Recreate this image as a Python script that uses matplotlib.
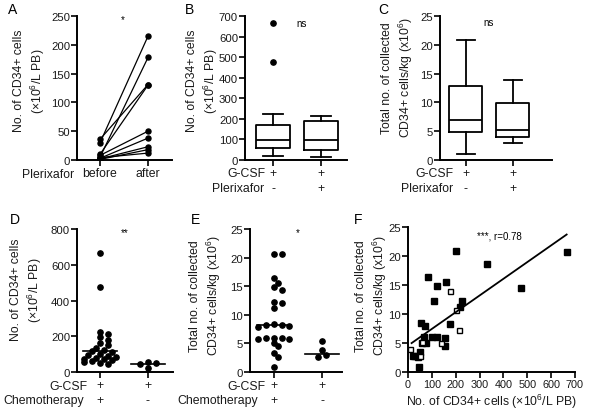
import numpy as np
import matplotlib
matplotlib.use("Agg")
from matplotlib import pyplot as plt

plt.rcParams['font.family'] = ['Liberation Sans', 'DejaVu Sans']
plt.rcParams['mathtext.fontset'] = 'custom'
plt.rcParams['mathtext.rm'] = 'Liberation Sans'
plt.rcParams['mathtext.it'] = 'Liberation Sans:italic'
plt.rcParams['font.size'] = 8

# ---- data ----
# A: paired CD34+ counts before / after plerixafor
a_before = [30, 5, 36, 10, 8, 3, 2, 1, 4]
a_after = [215, 178, 131, 130, 50, 38, 23, 18, 12]

# B: box stats (whislo, q1, med, q3, whishi) and outliers
b_stats = [[20, 60, 95, 172, 222], [15, 50, 95, 192, 215]]
b_fliers = [[475, 665], []]

# C: box stats
c_stats = [[1.0, 4.8, 7.0, 12.8, 20.8], [3.0, 4.0, 5.2, 9.9, 13.9]]

# D: CD34+ counts, chemo vs no chemo
d_chemo = [665, 475, 225, 215, 195, 180, 160, 150, 135, 125, 118, 110, 100,
           95, 90, 85, 80, 75, 70, 65, 60, 55, 50, 45]
d_nochemo = [55, 50, 45, 20]
d_medians = [115, 45]

# E: collected CD34+ cells/kg
e_chemo = [20.7, 20.6, 16.4, 15.6, 14.8, 14.4, 12.3, 12.0, 11.2, 8.4, 8.3,
           8.2, 8.0, 7.9, 6.0, 6.0, 5.9, 5.8, 5.8, 5.0, 4.5, 3.4, 2.6, 0.9]
e_nochemo = [5.5, 3.8, 3.0, 2.7]
e_medians = [8.3, 3.2]

# F: correlation, filled = G-CSF + chemo, open = plerixafor
f_fill_x = [665, 475, 330, 200, 85, 120, 160, 110, 225, 220, 175, 55, 70, 100,
            120, 155, 155, 60, 75, 50, 30, 40, 45, 20, 65]
f_fill_y = [20.7, 14.4, 18.6, 20.8, 16.4, 14.8, 15.6, 12.3, 12.2, 11.2, 8.3,
            8.4, 8.0, 6.0, 6.0, 5.8, 4.5, 5.0, 5.0, 3.5, 2.7, 2.6, 0.9, 2.7, 6.0]
f_open_x = [175, 200, 215, 60, 140, 10, 50]
f_open_y = [13.9, 10.7, 7.2, 5.2, 5.0, 3.9, 2.8]
f_slope, f_icept = 0.0288, 4.55
f_line_x = [15, 665]

W, H = 589, 410
fig = plt.figure(figsize=(W / 100, H / 100), dpi=100)
TXT = '#1a1a1a'
FS = 8.2
RS = 8.8  # row labels under the axes


def add_ax(l, t, r, b):
    ax = fig.add_axes([l / W, 1 - b / H, (r - l) / W, (b - t) / H])
    for s in ['top', 'right']:
        ax.spines[s].set_visible(False)
    for s in ['left', 'bottom']:
        ax.spines[s].set_linewidth(1.4)
    ax.tick_params(direction='out', length=4, width=1.2, labelsize=8.2,
                   colors='black', labelcolor=TXT, pad=1)
    ax.patch.set_alpha(0)
    return ax


def ylab(x, y, s):
    fig.text(x / W, 1 - y / H, s, rotation=90, ha='center', va='center',
             fontsize=8.8, color=TXT, linespacing=1.25)


def put(x, y, s, ha='center', fs=FS):
    fig.text(x / W, 1 - y / H, s, ha=ha, va='center', fontsize=fs, color=TXT)


def swarm(vals, center, ax_h_px, vmax, xscale, d=5.4):
    # simple beeswarm: place points so they don't overlap too much in pixel space
    ypx = np.array(vals) / vmax * ax_h_px
    placed = []
    xs = []
    for yy in ypx:
        for k in [0, 1, -1, 2, -2, 3, -3, 4, -4]:
            xx = k * d * 0.72
            if all((xx - px) ** 2 + (yy - py) ** 2 >= (0.88 * d) ** 2 for px, py in placed):
                break
        placed.append((xx, yy))
        xs.append(center + xx / xscale)
    return xs


lab_cd34 = 'No. of CD34+ cells\n' + r'(×10$^6$/L PB)'
lab_tot = 'Total no. of collected\n' + r'CD34+ cells/kg (x10$^6$)'

# ---- A ----
ax = add_ax(77, 17, 172, 161)
for b, a in zip(a_before, a_after):
    ax.plot([0, 1], [b, a], color='black', lw=0.9, marker='o', ms=3.6)
ax.set_xlim(-0.48, 1.5)
ax.set_ylim(0, 250)
ax.set_yticks(range(0, 251, 50))
ax.set_xticks([0, 1])
ax.set_xticklabels(['before', 'after'], fontsize=RS)
ax.text(0.48, 245, '*', ha='center', va='center', fontsize=7)
put(22, 175, 'Plerixafor', ha='left', fs=RS)
fig.text(13 / W, 1 - 10 / H, 'A', ha='center', va='center', fontsize=10)
ylab(30, 81, lab_cd34)

# ---- B ----
ax = add_ax(245, 17, 347, 161)
stats = [dict(whislo=s[0], q1=s[1], med=s[2], q3=s[3], whishi=s[4], fliers=f)
         for s, f in zip(b_stats, b_fliers)]
lp = dict(color='black', lw=1.3)
ax.bxp(stats, positions=[0, 1], widths=0.7, boxprops=lp, whiskerprops=lp,
       capprops=lp, medianprops=lp, capwidths=0.42,
       flierprops=dict(marker='o', mfc='black', mec='black', ms=3.8))
ax.set_xlim(-0.58, 1.54)
ax.set_ylim(0, 700)
ax.set_yticks(range(0, 701, 100))
ax.set_xticks([0, 1])
ax.set_xticklabels(['+', '+'], fontsize=RS)
ax.text(0.6, 665, 'ns', ha='center', va='center', fontsize=7)
put(266, 174, 'G-CSF', ha='right', fs=RS)
put(264, 189, 'Plerixafor', ha='right', fs=RS)
put(273, 189, '-', fs=RS)
put(321, 189, '+', fs=RS)
fig.text(190 / W, 1 - 10 / H, 'B', ha='center', va='center', fontsize=10)
ylab(203, 81, lab_cd34)

# ---- C ----
ax = add_ax(440, 17, 552, 161)
stats = [dict(whislo=s[0], q1=s[1], med=s[2], q3=s[3], whishi=s[4], fliers=[])
         for s in c_stats]
ax.bxp(stats, positions=[0, 1], widths=0.7, boxprops=lp, whiskerprops=lp,
       capprops=lp, medianprops=lp, capwidths=0.39)
ax.set_xlim(-0.55, 1.83)
ax.set_ylim(0, 25)
ax.set_yticks(range(0, 26, 5))
ax.set_xticks([0, 1])
ax.set_xticklabels(['+', '+'], fontsize=RS)
ax.text(0.49, 24, 'ns', ha='center', va='center', fontsize=7)
put(454, 174, 'G-CSF', ha='right', fs=RS)
put(453, 189, 'Plerixafor', ha='right', fs=RS)
put(466, 189, '-', fs=RS)
put(513, 189, '+', fs=RS)
fig.text(383 / W, 1 - 10 / H, 'C', ha='center', va='center', fontsize=10)
ylab(398, 78, lab_tot)

# ---- D ----
ax = add_ax(77, 230, 173, 373)
for i, grp in enumerate([d_chemo, d_nochemo]):
    xs = swarm(grp, i, 143, 800, 48)
    ax.plot(xs, grp, 'o', color='black', ms=3.8, ls='none')
    ax.plot([i - 0.35, i + 0.35], [d_medians[i]] * 2, color='black', lw=1.2)
ax.set_xlim(-0.48, 1.52)
ax.set_ylim(0, 800)
ax.set_yticks(range(0, 801, 200))
ax.set_xticks([0, 1])
ax.set_xticklabels(['+', '+'], fontsize=RS)
ax.text(0.52, 785, '**', ha='center', va='center', fontsize=7)
put(87, 387, 'G-CSF', ha='right', fs=RS)
put(84, 401, 'Chemotherapy', ha='right', fs=RS)
put(100, 401, '+', fs=RS)
put(148, 401, '-', fs=RS)
fig.text(15 / W, 1 - 220 / H, 'D', ha='center', va='center', fontsize=10)
ylab(27, 290, lab_cd34)

# ---- E ----
ax = add_ax(250, 230, 342, 373)
for i, grp in enumerate([e_chemo, e_nochemo]):
    xs = swarm(grp, i, 143, 25, 48)
    ax.plot(xs, grp, 'o', color='black', ms=3.8, ls='none')
    ax.plot([i - 0.35, i + 0.35], [e_medians[i]] * 2, color='black', lw=1.2)
ax.set_xlim(-0.5, 1.42)
ax.set_ylim(0, 25)
ax.set_yticks(range(0, 26, 5))
ax.set_xticks([0, 1])
ax.set_xticklabels(['+', '+'], fontsize=RS)
ax.text(0.5, 24.5, '*', ha='center', va='center', fontsize=7)
put(265, 387, 'G-CSF', ha='right', fs=RS)
put(258, 401, 'Chemotherapy', ha='right', fs=RS)
put(274, 401, '+', fs=RS)
put(322, 401, '-', fs=RS)
fig.text(196 / W, 1 - 220 / H, 'E', ha='center', va='center', fontsize=10)
ylab(206, 296, lab_tot)

# ---- F ----
ax = add_ax(408, 228, 575, 373)
ax.plot(f_fill_x, f_fill_y, 's', color='black', ms=3.8, ls='none')
ax.plot(f_open_x, f_open_y, 's', mfc='white', mec='black', mew=1.0, ms=3.6, ls='none')
lx = np.array(f_line_x)
ax.plot(lx, f_slope * lx + f_icept, color='black', lw=1.3)
ax.set_xlim(0, 700)
ax.set_ylim(0, 25)
ax.set_yticks(range(0, 26, 5))
ax.set_xticks(range(0, 701, 100))
ax.tick_params(axis='x', labelsize=7.8)
ax.text(385, 23.5, '***, r=0.78', ha='center', va='center', fontsize=7)
ax.set_xlabel(r'No. of CD34+ cells (×10$^6$/L PB)', fontsize=RS, color=TXT, labelpad=2)
fig.text(358 / W, 1 - 220 / H, 'F', ha='center', va='center', fontsize=10)
ylab(372, 296, lab_tot)

fig.savefig('out.png', dpi=100)
